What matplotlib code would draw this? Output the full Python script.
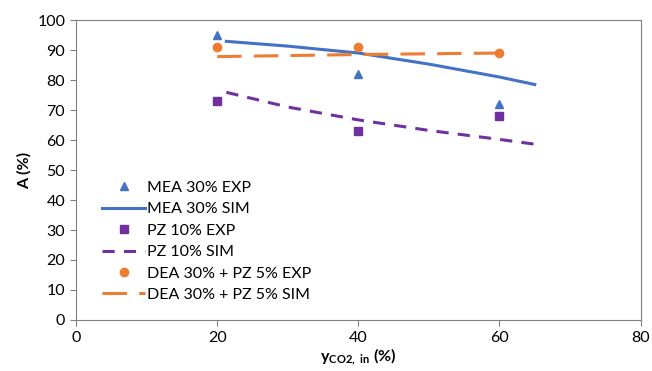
import numpy as np
import matplotlib
matplotlib.use('Agg')
import matplotlib.pyplot as plt

plt.rcParams['font.family'] = ['Lato', 'DejaVu Sans']
plt.rcParams['mathtext.fontset'] = 'custom'
plt.rcParams['mathtext.rm'] = 'Lato'
plt.rcParams['mathtext.bf'] = 'Lato:bold'

# experimental points
x_exp = [20, 40, 60]
mea_exp = [95, 82, 72]
pz_exp = [73, 63, 68]
dea_exp = [91, 91, 89]

# simulation curves
mea_sim_x = [21.3, 30, 40, 50, 60, 65]
mea_sim_y = [92.9, 91.3, 89.0, 85.3, 81.0, 78.5]
pz_sim_x = [21.3, 30, 40, 50, 60, 65]
pz_sim_y = [75.9, 71.0, 66.7, 63.2, 60.2, 58.6]
dea_sim_x = [20, 40, 60]
dea_sim_y = [87.8, 88.5, 89.0]

blue = '#4472C4'
orange = '#ED7D31'
purple = '#7030A0'

fig = plt.figure(figsize=(6.52, 3.71), dpi=100)
ax = fig.add_axes([0.1166, 0.1375, 0.866, 0.8085])

ax.plot(x_exp, mea_exp, '^', color=blue, markersize=6, label='MEA 30% EXP')
ax.plot(mea_sim_x, mea_sim_y, '-', color=blue, lw=2.2, label='MEA 30% SIM')
ax.plot(x_exp, pz_exp, 's', color=purple, markersize=6, label='PZ 10% EXP')
ax.plot(pz_sim_x, pz_sim_y, '--', color=purple, lw=2.2, dashes=(4, 3), label='PZ 10% SIM')
ax.plot(x_exp, dea_exp, 'o', color=orange, markersize=6, label='DEA 30% + PZ 5% EXP')
ax.plot(dea_sim_x, dea_sim_y, '--', color=orange, lw=2.2, dashes=(8, 4), label='DEA 30% + PZ 5% SIM')

ax.set_xlim(0, 80)
ax.set_ylim(0, 100)
ax.set_xticks(np.arange(0, 81, 20))
ax.set_yticks(np.arange(0, 101, 10))
ax.tick_params(labelsize=11.5, color='#808080', length=4.3)
for s in ['bottom', 'top', 'right', 'left']:
    ax.spines[s].set_color('#808080')

ax.set_ylabel('A (%)', fontsize=11.5, fontweight='bold', labelpad=4)
ax.set_xlabel(r'$\mathbf{y}_{\mathbf{CO2,\ in}}$ (%)', fontsize=11.5, fontweight='bold', labelpad=1)

ax.legend(loc='upper left', bbox_to_anchor=(0.035, 0.485), frameon=False, fontsize=11.5,
          handlelength=2.7, handletextpad=0.1, labelspacing=0.45, borderaxespad=0)

fig.savefig('out.png', dpi=100)
